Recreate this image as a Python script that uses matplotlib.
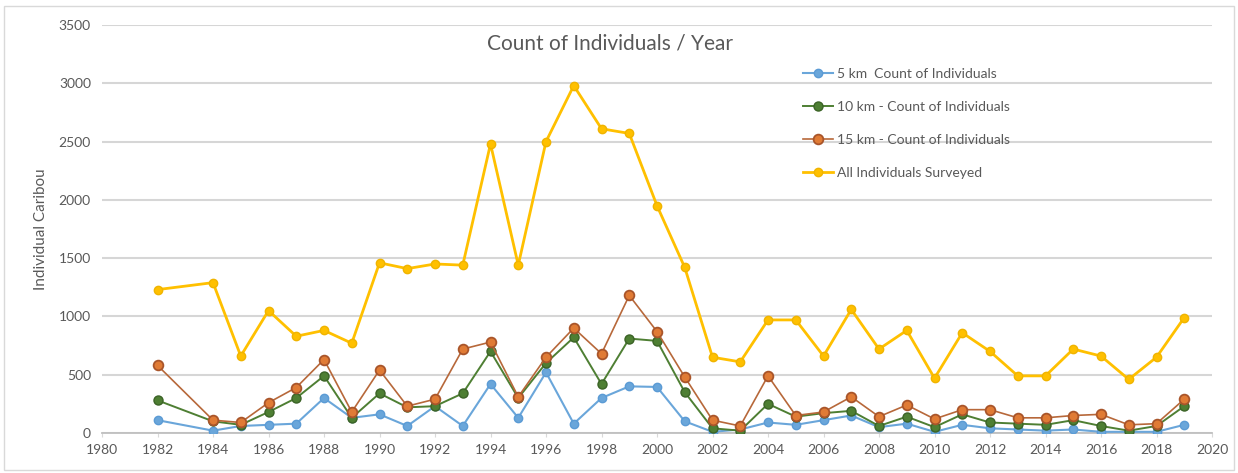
import matplotlib.pyplot as plt
from matplotlib.patches import Rectangle

plt.rcParams['font.family'] = ['Lato', 'DejaVu Sans']

years = [1982, 1984, 1985, 1986, 1987, 1988, 1989, 1990, 1991, 1992, 1993, 1994,
         1995, 1996, 1997, 1998, 1999, 2000, 2001, 2002, 2003, 2004, 2005, 2006,
         2007, 2008, 2009, 2010, 2011, 2012, 2013, 2014, 2015, 2016, 2017, 2018, 2019]

count_5km = [110, 20, 60, 70, 80, 300, 130, 160, 60, 230, 60, 420,
             130, 520, 80, 300, 400, 395, 100, 10, 30, 90, 70, 110,
             150, 50, 80, 10, 70, 40, 30, 20, 30, 10, 10, 10, 70]

count_10km = [280, 100, 70, 180, 300, 490, 130, 340, 220, 230, 340, 700,
              300, 600, 820, 420, 810, 790, 350, 40, 20, 250, 140, 170,
              190, 60, 140, 50, 160, 90, 80, 70, 110, 60, 20, 60, 230]

count_15km = [580, 110, 90, 260, 390, 630, 180, 540, 230, 290, 720, 780,
              310, 650, 900, 680, 1180, 870, 480, 110, 60, 490, 150, 180,
              310, 140, 240, 120, 200, 200, 130, 130, 150, 160, 70, 80, 290]

count_all = [1230, 1290, 660, 1050, 830, 880, 770, 1460, 1410, 1450, 1440, 2480,
             1440, 2500, 2980, 2610, 2570, 1950, 1420, 650, 610, 970, 970, 660,
             1060, 720, 880, 470, 860, 700, 490, 490, 720, 660, 460, 650, 990]

labels = ["5 km  Count of Individuals",
          "10 km - Count of Individuals",
          "15 km - Count of Individuals",
          "All Individuals Surveyed"]

fig = plt.figure(figsize=(12.38, 4.73), dpi=100)
ax = fig.add_axes([0.0824, 0.0846, 0.8966, 0.8625])

# thin frame round the whole chart area
fig.patches.append(Rectangle((0.003, 0.006), 0.994, 0.982, transform=fig.transFigure,
                             fill=False, edgecolor='#d9d9d9', linewidth=1))

ax.plot(years, count_5km, color='#6AA6DA', marker='o', markersize=6,
        markeredgecolor='#5B9BD5', linewidth=1.5, label=labels[0], zorder=3)
ax.plot(years, count_10km, color='#4E7F33', marker='o', markersize=6.5,
        markerfacecolor='#4E7F33', markeredgecolor='#3B6326', linewidth=1.4,
        label=labels[1], zorder=4)
ax.plot(years, count_15km, color='#B7683A', marker='o', markersize=7,
        markerfacecolor='#E07B35', markeredgecolor='#A9552A', markeredgewidth=1.3,
        linewidth=1.2, label=labels[2], zorder=5)
ax.plot(years, count_all, color='#FFC000', marker='o', markersize=6,
        markeredgecolor='#F0B400', linewidth=2, label=labels[3], zorder=6)

ax.set_xlim(1980, 2020)
ax.set_ylim(0, 3500)
ax.set_xticks(range(1980, 2021, 2))
ax.set_yticks(range(0, 3501, 500))
ax.grid(axis='y', color='#d6d6d6', linewidth=1.5)
ax.set_axisbelow(True)

for side in ['top', 'right', 'left']:
    ax.spines[side].set_visible(False)
ax.spines['bottom'].set_color('#bfbfbf')
ax.spines['bottom'].set_linewidth(1.3)
ax.tick_params(axis='y', length=0, labelsize=10, labelcolor='#595959', pad=8)
ax.tick_params(axis='x', length=3, color='#d9d9d9', labelsize=10,
               labelcolor='#595959', pad=5)

ax.set_ylabel("Individual Caribou", fontsize=11, color='#595959', labelpad=8)
ax.text(0.458, 0.955, "Count of Individuals / Year", transform=ax.transAxes,
        ha='center', va='center', fontsize=15, color='#595959')

ax.legend(loc='upper left', bbox_to_anchor=(0.62, 0.925), frameon=False,
          fontsize=10, labelcolor='#595959', handlelength=2.2,
          handletextpad=0.3, labelspacing=1.5)

fig.savefig("out.png", dpi=100, facecolor='white')
